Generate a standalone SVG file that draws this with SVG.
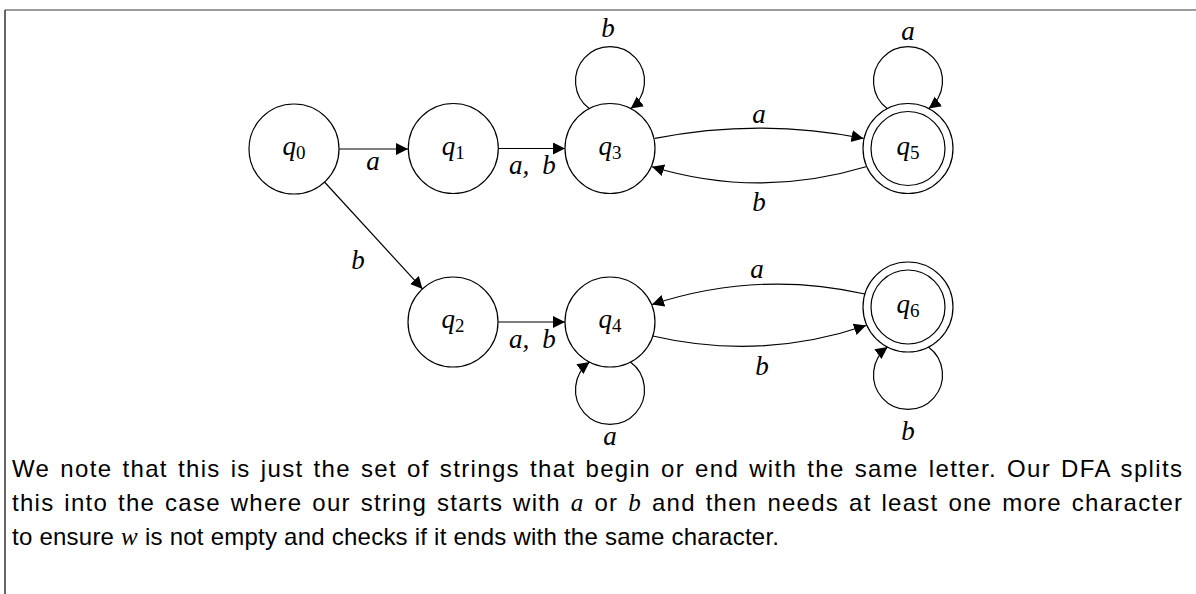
<svg xmlns="http://www.w3.org/2000/svg" width="1196" height="594" viewBox="0 0 1196 594">
<style>
.st{fill:#fff;stroke:#000;stroke-width:1.2}
.ed{fill:none;stroke:#000;stroke-width:1.2}
.lb{font-family:"Liberation Serif",serif;font-style:italic;font-size:27px;fill:#000;text-anchor:middle}
.sub{font-style:normal;font-size:19px}
.body{font-family:"Liberation Sans",sans-serif;font-size:24px;fill:#000}
.m{font-family:"Liberation Serif",serif;font-style:italic;font-size:25px}
</style>
<defs>
<marker id="ar" markerUnits="userSpaceOnUse" markerWidth="13" markerHeight="13" refX="12" refY="6" orient="auto">
<path d="M0,0 L12,6 L0,12 Z" fill="#000"/>
</marker>
</defs>
<rect width="1196" height="594" fill="#fff"/>
<line x1="5" y1="10" x2="1196" y2="10" stroke="#7a7a7a" stroke-width="1.5"/>
<line x1="5" y1="10" x2="5" y2="594" stroke="#333" stroke-width="1.5"/>

<g id="connectors">
<line class="ed" x1="339" y1="149" x2="408" y2="149" marker-end="url(#ar)"/>
<line class="ed" x1="498.3" y1="148.5" x2="565" y2="148.5" marker-end="url(#ar)"/>
<line class="ed" x1="324.5" y1="182" x2="422.5" y2="288.9" marker-end="url(#ar)"/>
<line class="ed" x1="498" y1="322" x2="565" y2="322" marker-end="url(#ar)"/>
<path class="ed" d="M589.2,108.6 A34.5,34.5 0 1 1 630.8,108.6" marker-end="url(#ar)"/>
<path class="ed" d="M887.2,108.6 A34.5,34.5 0 1 1 928.8,108.6" marker-end="url(#ar)"/>
<path class="ed" d="M630.4,362.1 A34.5,34.5 0 1 1 589.6,362.1" marker-end="url(#ar)"/>
<path class="ed" d="M928.4,347.1 A34.5,34.5 0 1 1 887.6,347.1" marker-end="url(#ar)"/>
<path class="ed" d="M655,138.4 C724,124.7 794,124.7 863.5,138.4" marker-end="url(#ar)"/>
<path class="ed" d="M866,166.7 C795,188 722,188 652,166.7" marker-end="url(#ar)"/>
<path class="ed" d="M865,294 C793,277.6 724,281 652,304.5" marker-end="url(#ar)"/>
<path class="ed" d="M652.8,336 C726,353 796,349.2 866,325.5" marker-end="url(#ar)"/>
<text class="lb" x="373" y="170">a</text>
<text class="lb" x="519" y="174">a,</text>
<text class="lb" x="549" y="174">b</text>
<text class="lb" x="358" y="269">b</text>
<text class="lb" x="519" y="348">a,</text>
<text class="lb" x="549" y="348">b</text>
<text class="lb" x="608" y="37">b</text>
<text class="lb" x="908" y="40">a</text>
<text class="lb" x="759" y="123">a</text>
<text class="lb" x="759" y="211">b</text>
<text class="lb" x="757" y="278">a</text>
<text class="lb" x="762" y="375">b</text>
<text class="lb" x="610" y="445">a</text>
<text class="lb" x="908" y="440">b</text>
</g>

<g id="q0"><circle class="st" cx="294" cy="149" r="45"/><text class="lb" x="294" y="155">q<tspan class="sub" dy="4">0</tspan></text></g>
<g id="q1"><circle class="st" cx="453.3" cy="148.5" r="45"/><text class="lb" x="453.3" y="155">q<tspan class="sub" dy="4">1</tspan></text></g>
<g id="q3"><circle class="st" cx="610" cy="148.5" r="45"/><text class="lb" x="610" y="155">q<tspan class="sub" dy="4">3</tspan></text></g>
<g id="q5"><circle class="st" cx="908" cy="148.5" r="45"/><circle class="st" cx="908" cy="148.5" r="37"/><text class="lb" x="908" y="155">q<tspan class="sub" dy="4">5</tspan></text></g>
<g id="q2"><circle class="st" cx="453" cy="322" r="45"/><text class="lb" x="453" y="328">q<tspan class="sub" dy="4">2</tspan></text></g>
<g id="q4"><circle class="st" cx="610" cy="322" r="45"/><text class="lb" x="610" y="328">q<tspan class="sub" dy="4">4</tspan></text></g>
<g id="q6"><circle class="st" cx="908" cy="307" r="45"/><circle class="st" cx="908" cy="307" r="37"/><text class="lb" x="908" y="313">q<tspan class="sub" dy="4">6</tspan></text></g>

<text class="body" x="12" y="477" word-spacing="2" textLength="1170" lengthAdjust="spacing">We note that this is just the set of strings that begin or end with the same letter. Our DFA splits</text>
<text class="body" x="12" y="511" word-spacing="2" textLength="1170" lengthAdjust="spacing">this into the case where our string starts with <tspan class="m">a</tspan> or <tspan class="m">b</tspan> and then needs at least one more character</text>
<text class="body" x="12" y="545" textLength="767" lengthAdjust="spacing">to ensure <tspan class="m">w</tspan> is not empty and checks if it ends with the same character.</text>
</svg>
